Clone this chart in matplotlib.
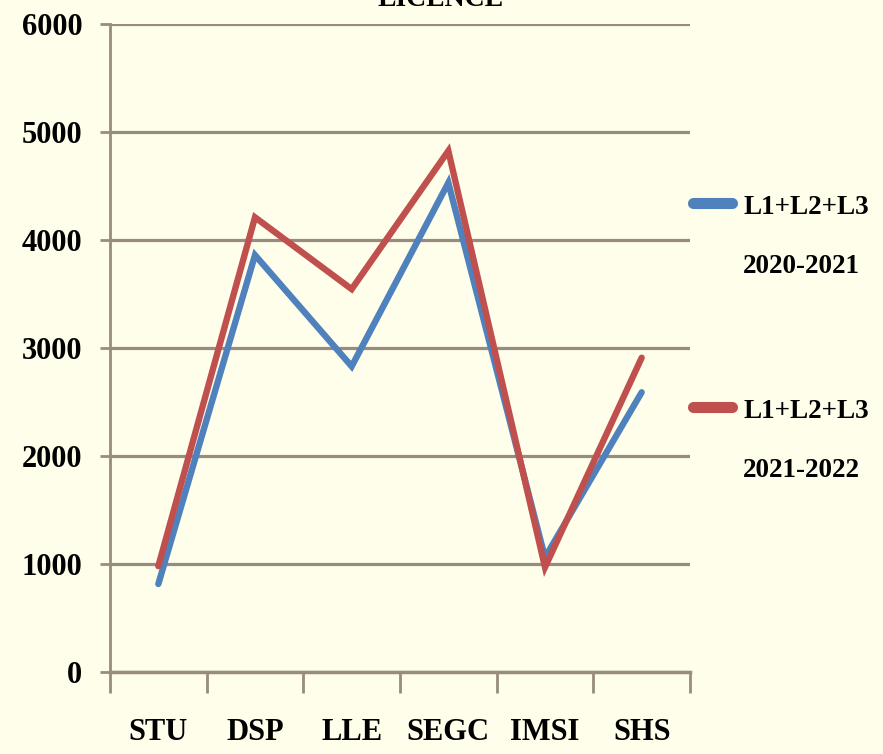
import matplotlib
matplotlib.use("Agg")
import matplotlib.pyplot as plt
from matplotlib.lines import Line2D
import numpy as np

categories = ["STU", "DSP", "LLE", "SEGC", "IMSI", "SHS"]
series_2020 = [815, 3860, 2830, 4530, 1060, 2590]
series_2021 = [980, 4210, 3545, 4825, 970, 2910]
legend_l1 = ["L1+L2+L3", "L1+L2+L3"]
legend_l2 = ["2020-2021", "2021-2022"]
title = "LICENCE"
yticks = [0, 1000, 2000, 3000, 4000, 5000, 6000]

bg = "#FEFEEB"
grid_c = "#978C7D"
blue = "#4F81BD"
red = "#C0504D"
font = "Liberation Serif"
W, H = 883, 754

fig = plt.figure(figsize=(W/100, H/100), dpi=100, facecolor=bg)
ax = fig.add_axes([110/W, 1-672/H, 580/W, 648/H])
ax.set_facecolor(bg)

x = np.arange(len(categories))
l_a, = ax.plot(x, series_2020, color=blue, lw=4.6, solid_capstyle="round", solid_joinstyle="miter", zorder=3)
l_b, = ax.plot(x, series_2021, color=red, lw=4.6, solid_capstyle="round", solid_joinstyle="miter", zorder=4)

ax.set_xlim(-0.5, len(categories) - 0.5)
ax.set_ylim(0, 6000)
ax.set_yticks(yticks)
ax.set_yticklabels([str(v) for v in yticks], fontfamily=font, fontweight="bold", fontsize=22)
ax.yaxis.grid(True, color=grid_c, lw=2.3)
ax.set_axisbelow(True)
ax.tick_params(axis="y", length=7, width=2, color=grid_c, pad=13)

ax.set_xticks(np.arange(-0.5, len(categories)), minor=False)
ax.set_xticklabels([])
ax.tick_params(axis="x", which="major", length=15, width=2, color=grid_c)
ax.set_xticks(x, minor=True)
ax.set_xticklabels(categories, minor=True, fontfamily=font, fontweight="bold", fontsize=22)
ax.tick_params(axis="x", which="minor", length=0, pad=33)

for s in ["top", "right"]:
    ax.spines[s].set_visible(False)
ax.spines["left"].set_color(grid_c)
ax.spines["left"].set_linewidth(2)
ax.spines["bottom"].set_color(grid_c)
ax.spines["bottom"].set_linewidth(2.5)

fig.text(441/W, 1 - 6/H, title, ha="center", va="baseline", fontfamily=font, fontweight="bold", fontsize=20)

# legend drawn next to the plot
for line, yl, t1, t2 in [(l_a, 203, legend_l1[0], legend_l2[0]), (l_b, 407, legend_l1[1], legend_l2[1])]:
    fig.add_artist(Line2D([693/W, 732/W], [1 - yl/H, 1 - yl/H], transform=fig.transFigure,
                          color=line.get_color(), lw=8, solid_capstyle="round"))
    fig.text(743/W, 1 - (yl + 1)/H, t1, ha="left", va="center_baseline", fontfamily=font, fontweight="bold", fontsize=19.5)
    fig.text(743/W, 1 - (yl + 60)/H, t2, ha="left", va="center_baseline", fontfamily=font, fontweight="bold", fontsize=19.5)

fig.savefig("out.png", dpi=100, facecolor=bg)
